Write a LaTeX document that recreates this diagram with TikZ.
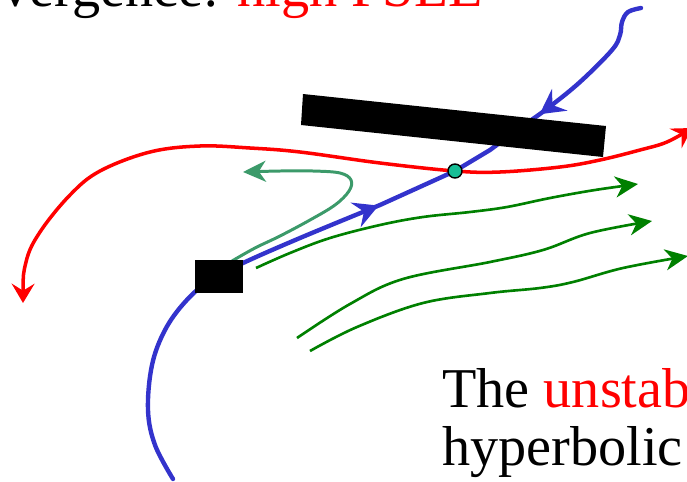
\documentclass[tikz,border=0pt]{standalone}
\usepackage{fontspec}
\setmainfont{Liberation Serif}
\definecolor{MANblue}{HTML}{3333CC}
\definecolor{FLOWgreen}{HTML}{008000}
\definecolor{HOOKgreen}{HTML}{3C9A6A}
\definecolor{DOTcyan}{HTML}{17BE96}
\usetikzlibrary{decorations.markings, arrows.meta, positioning}

\begin{document}
\begin{tikzpicture}[x=0.02cm, y=-0.02cm,
      flow/.style={FLOWgreen, line width=1.5pt, -{Stealth[length=13pt, width=12pt, inset=4pt]}},
      midtip/.style={postaction={decorate, decoration={markings,
         mark=at position #1 with {\arrow{Stealth[length=14pt, width=15pt, inset=5pt]}}}}},
      txt/.style={anchor=base west, inner sep=0pt, font=\fontsize{32}{34}\selectfont}]
      \useasboundingbox (0,0) rectangle (687,481);
      \clip (0,0) rectangle (687,481);
      % Title (cut off at the top)
      \node[txt] (title) at (1,6) {vergence: \textcolor{red}{high FSLE}};
      % Hyperbolic point
      \coordinate (hyp) at (455,171);
      % Stable manifold, upper branch
      \draw[MANblue, line width=2.5pt, line cap=round, midtip=0.6] plot[smooth, tension=0.6]
         coordinates {(641,8) (628,12) (622,22) (620,35) (612,50) (580,82) (548,108) (520,128) (490,150)} -- (hyp);
      % Stable manifold, lower branch
      \draw[MANblue, line width=2.5pt, line cap=round, midtip=0.83] plot[smooth, tension=0.6]
         coordinates {(173,479) (155,445) (148,410) (152,365) (165,330) (185,302) (210,280) (243,263) (300,238) (380,205)} -- (hyp);
      % Unstable manifold
      \draw[red, line width=2pt, {Stealth[length=11pt, width=13pt, inset=4pt]}-{Stealth[length=11pt, width=13pt, inset=4pt]}]
         plot[smooth, tension=0.6] coordinates {(23,303) (26,262) (40,232) (70,195) (100,171) (150,152) (200,146)
         (250,148) (300,152) (380,163) (455,171) (500,172) (560,167) (600,160) (640,150) (667,142) (692,128)};
      % Trajectory that turns back
      \draw[HOOKgreen, line width=1.7pt, -{Stealth[length=13pt, width=12pt, inset=4pt]}] plot[smooth, tension=0.6]
         coordinates {(232,261) (255,248) (280,236) (310,220) (335,205) (349,191) (351,180) (340,173) (313,171) (280,171) (243,172)};
      % Trajectories that follow the unstable manifold
      \draw[flow] plot[smooth, tension=0.6] coordinates {(256,268) (290,253) (330,238) (380,225) (423,217) (470,212) (507,207) (550,198) (595,190) (638,184)};
      \draw[flow] plot[smooth, tension=0.6] coordinates {(297,338) (350,304) (403,279) (490,262) (543,250) (590,233) (652,221)};
      \draw[flow] plot[smooth, tension=0.6] coordinates {(310,351) (357,327) (423,303) (490,293) (540,288) (573,282) (623,268) (688,256)};
      % Point
      \filldraw[fill=DOTcyan, draw=black, line width=0.8pt] (hyp) circle (7);
      % Black boxes
      \fill (303,94) -- (606,126) -- (603,157) -- (301,125) -- cycle;
      \fill (195,260) rectangle (243,293);
      % Caption text (cut off at the right)
      \node[txt] (capA) at (442,407) {The \textcolor{red}{unstable}};
      \node[txt] (capB) at (442,465) {hyperbolic};
   \end{tikzpicture}
\end{document}
